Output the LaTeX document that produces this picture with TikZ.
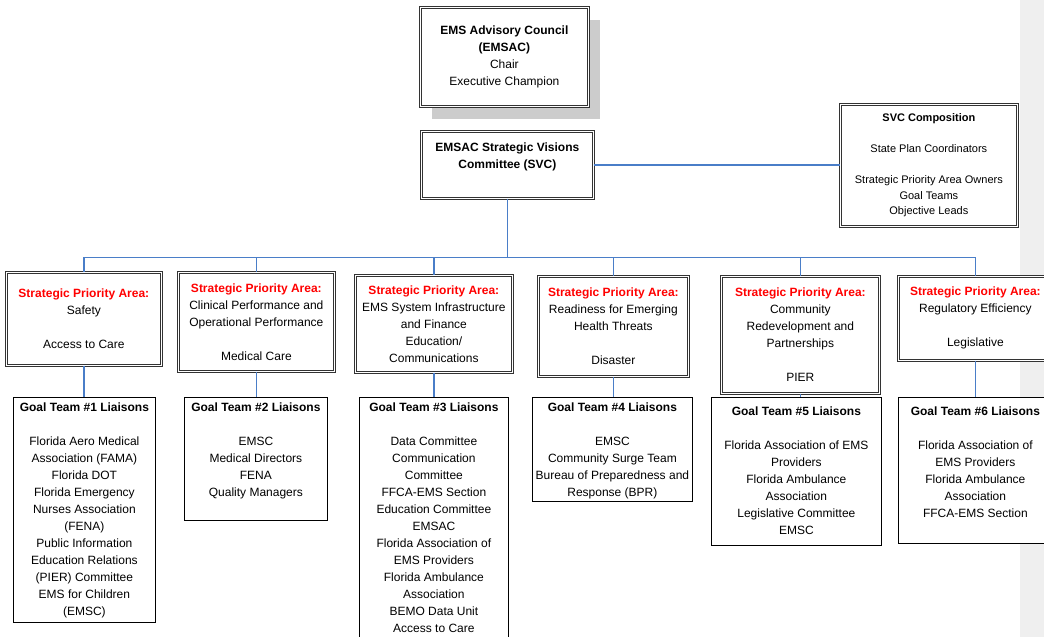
\documentclass[tikz,border=0pt]{standalone}
\usepackage{fontspec}
\setmainfont{Liberation Sans}
\usetikzlibrary{shadows}

\definecolor{linkblue}{RGB}{74,126,200}
\definecolor{areared}{RGB}{255,0,0}
\definecolor{marginbg}{RGB}{239,239,239}

\newcommand{\boxtext}[4][c]{\begin{minipage}[t][#3][#1]{#2}\centering #4\end{minipage}}
\newcommand{\areahead}{\textcolor{areared}{\textbf{Strategic Priority Area:}}}

\tikzset{
  link/.style={draw=linkblue, line width=1.3pt},
  areabox/.style={draw=black!80, double, double distance=1.4pt, line width=0.7pt, fill=white, inner sep=0pt, anchor=north west},
  teambox/.style={draw=black, line width=0.8pt, fill=white, inner sep=0pt, anchor=north west},
}

\begin{document}
\begin{tikzpicture}[x=1pt, y=-1pt, every node/.append style={font=\fontsize{12}{17}\selectfont}]
\path[use as bounding box] (0,0) rectangle (1044,637);
\clip (0,0) rectangle (1044,637);

%page margin
\fill[marginbg] (1020,0) rectangle (1044,637);

%Council and committee
\node[areabox, drop shadow={shadow xshift=12pt, shadow yshift=-13pt, fill=black!20, opacity=1}] (emsac) at (420,7)
  {\boxtext{168pt}{99pt}{\textbf{EMS Advisory Council}\\ \textbf{(EMSAC)}\\ Chair\\ Executive Champion}};
\node[areabox] (svc) at (421,131)
  {\boxtext[t]{172pt}{67pt}{\vspace*{11.5pt}\textbf{EMSAC Strategic Visions}\\ \textbf{Committee (SVC)}}};
\node[areabox] (svccomp) at (840,104)
  {\boxtext{177pt}{122pt}{\fontsize{11}{15.5}\selectfont\textbf{SVC Composition}\\[15.5pt] State Plan Coordinators\\[15.5pt] Strategic Priority Area Owners\\ Goal Teams\\ Objective Leads}};

%Priority areas
\node[areabox] (spa1) at (6,272) {\boxtext{155pt}{93pt}{\areahead\\ Safety\\[17pt] Access to Care}};
\node[areabox] (spa2) at (178,272) {\boxtext{156pt}{99pt}{\areahead\\ Clinical Performance and\\ Operational Performance\\[17pt] Medical Care}};
\node[areabox] (spa3) at (355,275) {\boxtext{157pt}{97pt}{\areahead\\ EMS System Infrastructure\\ and Finance\\ Education/\\ Communications}};
\node[areabox] (spa4) at (538,276) {\boxtext{150pt}{100pt}{\areahead\\ Readiness for Emerging\\ Health Threats\\[17pt] Disaster}};
\node[areabox] (spa5) at (721,276) {\boxtext{158pt}{117pt}{\areahead\\ Community\\ Redevelopment and\\ Partnerships\\[17pt] PIER}};
\node[areabox] (spa6) at (898,276) {\boxtext{154pt}{84pt}{\areahead\\ Regulatory Efficiency\\[17pt] Legislative}};

%Goal teams
\node[teambox] (gt1) at (13,397) {\boxtext[t]{142pt}{225pt}{\vspace*{5.7pt}\textbf{Goal Team \#1 Liaisons}\\[17pt]
  Florida Aero Medical\\ Association (FAMA)\\ Florida DOT\\ Florida Emergency\\ Nurses Association\\ (FENA)\\
  Public Information\\ Education Relations\\ (PIER) Committee\\ EMS for Children\\ (EMSC)}};
\node[teambox] (gt2) at (184,397) {\boxtext[t]{143pt}{123pt}{\vspace*{5.7pt}\textbf{Goal Team \#2 Liaisons}\\[17pt]
  EMSC\\ Medical Directors\\ FENA\\ Quality Managers}};
\node[teambox] (gt3) at (359,397) {\boxtext[t]{149pt}{250pt}{\vspace*{5.7pt}\textbf{Goal Team \#3 Liaisons}\\[17pt]
  Data Committee\\ Communication\\ Committee\\ FFCA-EMS Section\\ Education Committee\\ EMSAC\\
  Florida Association of\\ EMS Providers\\ Florida Ambulance\\ Association\\ BEMO Data Unit\\ Access to Care}};
\node[teambox] (gt4) at (532,397) {\boxtext[t]{160pt}{104pt}{\vspace*{5pt}\textbf{Goal Team \#4 Liaisons}\\[17pt]
  EMSC\\ Community Surge Team\\ Bureau of Preparedness and\\ Response (BPR)}};
\node[teambox] (gt5) at (711,397) {\boxtext[t]{170pt}{148pt}{\vspace*{9pt}\textbf{Goal Team \#5 Liaisons}\\[17pt]
  Florida Association of EMS\\ Providers\\ Florida Ambulance\\ Association\\ Legislative Committee\\ EMSC}};
\node[teambox] (gt6) at (898,397) {\boxtext[t]{154pt}{146pt}{\vspace*{9pt}\textbf{Goal Team \#6 Liaisons}\\[17pt]
  Florida Association of\\ EMS Providers\\ Florida Ambulance\\ Association\\ FFCA-EMS Section}};

%Links
\path (svc.south) ++(0,59) coordinate (bus);
\draw[link] (svc.east) -- (svc.east -| svccomp.west);
\draw[link] (svc.south) -- (bus);
\draw[link] (spa1.north) |- (bus);
\draw[link] (spa2.north) |- (bus);
\draw[link] (spa3.north) |- (bus);
\draw[link] (spa4.north) |- (bus);
\draw[link] (spa5.north) |- (bus);
\draw[link] (spa6.north) |- (bus);
\draw[link] (spa1.south) -- (spa1.south |- gt1.north);
\draw[link] (spa2.south) -- (spa2.south |- gt2.north);
\draw[link] (spa3.south) -- (spa3.south |- gt3.north);
\draw[link] (spa4.south) -- (spa4.south |- gt4.north);
\draw[link] (spa5.south) -- (spa5.south |- gt5.north);
\draw[link] (spa6.south) -- (spa6.south |- gt6.north);
\end{tikzpicture}
\end{document}
